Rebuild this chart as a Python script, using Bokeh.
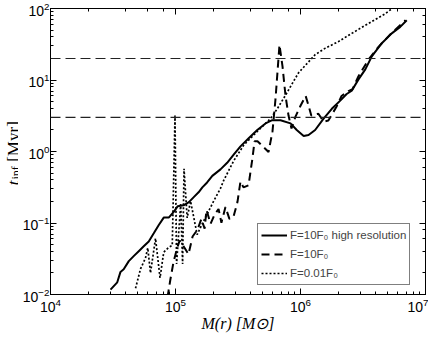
import math
from bokeh.plotting import figure
from bokeh.layouts import row
from bokeh.models import Span, Legend, LegendItem, LogAxis, Label, Range1d
from bokeh.embed import file_html
from bokeh.resources import INLINE

# F=10F0 high resolution (solid)
m_hi = [3.02e4, 3.42e4, 3.63e4, 3.85e4, 4.23e4, 4.63e4, 5.08e4, 5.57e4, 6.11e4, 6.70e4,
        7.35e4, 8.05e4, 8.83e4, 9.68e4, 1.04e5, 1.16e5, 1.28e5, 1.40e5, 1.53e5, 1.64e5,
        1.79e5, 1.97e5, 2.29e5, 2.59e5, 2.92e5, 3.31e5, 3.85e5, 4.51e5, 5.25e5, 5.94e5,
        6.92e5, 8.32e5, 9.33e5, 1.06e6, 1.16e6, 1.31e6, 1.53e6, 1.78e6, 2.08e6, 2.34e6,
        2.57e6, 2.91e6, 3.30e6, 3.72e6, 4.47e6, 5.37e6, 6.28e6, 7.08e6]
t_hi = [0.0117, 0.0148, 0.0207, 0.0225, 0.0293, 0.0344, 0.0403, 0.0472, 0.0552, 0.0718,
        0.0938, 0.119, 0.119, 0.143, 0.171, 0.177, 0.196, 0.230, 0.269, 0.315,
        0.369, 0.456, 0.562, 0.695, 0.904, 1.18, 1.53, 2.00, 2.47, 2.74,
        2.74, 2.47, 2.00, 1.65, 1.70, 2.00, 2.88, 3.96, 5.15, 6.37,
        7.08, 10.2, 14.1, 21.4, 32.7, 44.9, 55.3, 68.4]

# F=10F0 (dashed)
m_10 = [8.63e4, 9.12e4, 9.64e4, 1.03e5, 1.08e5, 1.16e5, 1.27e5, 1.37e5, 1.50e5, 1.61e5,
        1.71e5, 1.77e5, 1.91e5, 2.05e5, 2.21e5, 2.33e5, 2.51e5, 2.70e5, 2.91e5, 3.13e5,
        3.31e5, 3.50e5, 3.84e5, 4.13e5, 4.29e5, 4.53e5, 4.97e5, 5.55e5, 5.97e5, 6.31e5,
        6.79e5, 7.18e5, 7.59e5, 8.02e5, 8.47e5, 9.12e5, 1.00e6, 1.10e6, 1.16e6, 1.22e6,
        1.39e6, 1.53e6, 1.67e6, 1.94e6, 2.13e6, 2.42e6, 2.61e6, 2.91e6, 3.50e6, 4.21e6,
        5.35e6, 6.92e6]
t_10 = [0.0091, 0.0166, 0.0284, 0.0443, 0.0570, 0.0472, 0.0366, 0.0647, 0.0807, 0.114,
        0.0834, 0.152, 0.0977, 0.130, 0.157, 0.101, 0.167, 0.114, 0.122, 0.196,
        0.381, 0.315, 0.336, 0.815, 1.39, 1.39, 1.19, 0.984, 1.91, 5.43,
        31.0, 15.5, 5.98, 3.18, 2.10, 3.08, 4.36, 5.98, 4.36, 3.18,
        3.38, 2.62, 2.71, 4.22, 5.98, 7.00, 7.46, 11.3, 19.3, 29.1,
        45.3, 68.4]

# F=0.01F0 (dotted)
m_001 = [4.79e4, 5.25e4, 5.75e4, 6.00e4, 6.31e4, 6.92e4, 7.52e4, 8.05e4, 8.83e4, 9.42e4,
         9.91e4, 1.02e5, 1.10e5, 1.14e5, 1.17e5, 1.24e5, 1.32e5, 1.49e5, 1.68e5, 2.02e5,
         2.29e5, 2.43e5, 2.92e5, 3.52e5, 4.51e5, 5.75e5, 6.52e5, 7.55e5, 9.64e5, 1.31e6,
         1.58e6, 2.01e6, 2.57e6, 3.50e6, 4.76e6, 5.37e6, 6.31e6]
t_001 = [0.0122, 0.0228, 0.0323, 0.0447, 0.0200, 0.0608, 0.0171, 0.0390, 0.0457, 0.0486,
         3.18, 0.0267, 0.184, 0.0267, 0.574, 0.118, 0.202, 0.0689, 0.107, 0.202,
         0.305, 0.394, 0.740, 1.23, 1.91, 2.88, 3.96, 6.04, 12.6, 22.6,
         27.9, 34.4, 44.9, 61.7, 84.5, 99.1, 117.0]

h_levels = [3.0, 20.0]
legend_labels = ["F=10F\u2080 high resolution", "F=10F\u2080", "F=0.01F\u2080"]
x_title = "M(r) [M\u2299]"

TOTAL_H = 334
YSTRIP_W = 18
MAIN_W = 428 - YSTRIP_W

p = figure(width=MAIN_W, height=TOTAL_H, x_axis_type="log", y_axis_type="log",
           x_range=Range1d(1e4, 1e7), y_range=Range1d(1e-2, 1e2),
           output_backend="svg", toolbar_location=None,
           min_border_left=50 - YSTRIP_W, min_border_right=3, min_border_top=8,
           min_border_bottom=35)
p.xgrid.visible = False
p.ygrid.visible = False
p.outline_line_color = "black"
p.outline_line_width = 1
p.background_fill_color = "white"
p.border_fill_color = "white"

for ax in [p.xaxis[0], p.yaxis[0]]:
    ax.major_tick_in = 6
    ax.major_tick_out = 0
    ax.minor_tick_in = 3
    ax.minor_tick_out = 0
    ax.axis_line_color = "black"
    ax.major_tick_line_color = "black"
    ax.minor_tick_line_color = "black"
    ax.major_label_text_font = "Liberation Sans"
    ax.major_label_text_font_size = "14px"
    ax.major_label_text_color = "black"
p.yaxis[0].major_label_standoff = 1
p.xaxis[0].major_label_standoff = 3
p.xaxis[0].axis_label = x_title
p.xaxis[0].axis_label_standoff = 0
p.xaxis[0].axis_label_text_font = "Liberation Serif"
p.xaxis[0].axis_label_text_font_style = "italic"
p.xaxis[0].axis_label_text_font_size = "16px"
p.xaxis[0].axis_label_text_color = "black"

for loc in ["above", "right"]:
    ax = LogAxis(major_tick_in=6, major_tick_out=0, minor_tick_in=3, minor_tick_out=0,
                 major_label_text_font_size="1px", major_label_text_alpha=0.0,
                 major_label_standoff=0, axis_line_color="black")
    p.add_layout(ax, loc)

for lv in h_levels:
    p.add_layout(Span(location=lv, dimension="width", line_color="#222222",
                      line_width=1.2, line_dash="10 5"))

r1 = p.line(m_hi, t_hi, line_color="black", line_width=2)
r2 = p.line(m_10, t_10, line_color="black", line_width=2, line_dash="8 5")
r3 = p.line(m_001, t_001, line_color="black", line_width=1.7, line_dash="2 2")

legend = Legend(items=[LegendItem(label=legend_labels[0], renderers=[r1]),
                       LegendItem(label=legend_labels[1], renderers=[r2]),
                       LegendItem(label=legend_labels[2], renderers=[r3])],
                location=(207, 9))
legend.border_line_color = "black"
legend.border_line_width = 1
legend.background_fill_alpha = 1.0
legend.label_text_font = "Liberation Sans"
legend.label_text_font_size = "11.5px"
legend.glyph_width = 26
legend.glyph_height = 16
legend.label_height = 16
legend.spacing = 3
legend.padding = 3
legend.margin = 0
legend.label_standoff = 3
p.add_layout(legend)

# y axis label strip (its frame is aligned with the main frame; shares the y scale)
ys = figure(width=YSTRIP_W, height=TOTAL_H, x_range=Range1d(0, 1), y_range=p.y_range,
            y_axis_type="log", output_backend="svg", toolbar_location=None,
            x_axis_location=None, y_axis_location=None, min_border=0)
ys.outline_line_color = None
ys.background_fill_color = "white"
ys.border_fill_color = "white"
ys.grid.visible = False


def lab(text, sx, ty, size, style="normal"):
    ys.add_layout(Label(x=sx, y=ty, x_units="screen", y_units="data", text=text,
                        text_font="Liberation Serif", text_font_size=f"{size}px",
                        text_font_style=style, angle=math.pi / 2, text_align="left",
                        text_baseline="alphabetic", text_color="black"))


lab("t", 13, 0.336, 17, "italic")
lab("inf", 15, 0.405, 12)
lab("[Myr]", 13, 0.718, 17)

layout = row(ys, p)
open("out.html", "w").write(file_html(layout, INLINE))
